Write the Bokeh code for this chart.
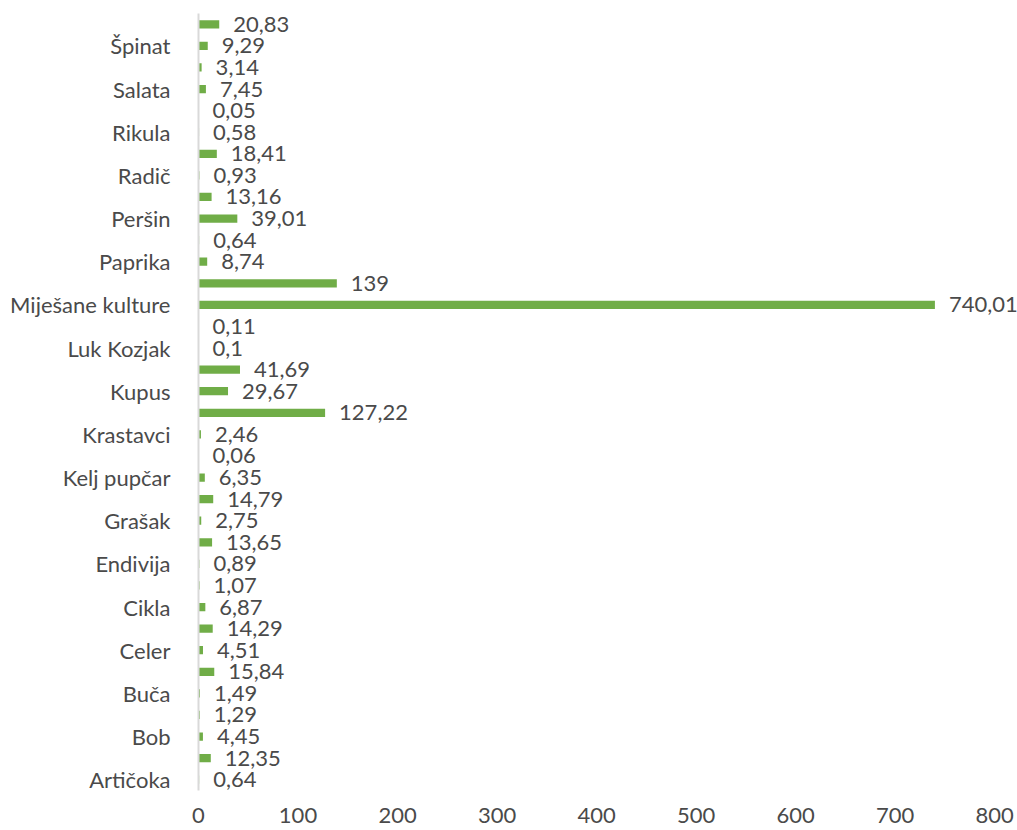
from bokeh.plotting import figure
from bokeh.models import ColumnDataSource, FixedTicker, Range1d
from bokeh.embed import file_html
from bokeh.resources import INLINE
from bokeh.core.properties import value

# 36 bars, bottom to top; only every other category is labelled on the axis
axis_labels = ["Artičoka", "Bob", "Buča", "Celer", "Cikla", "Endivija", "Grašak",
               "Kelj pupčar", "Krastavci", "Kupus", "Luk Kozjak", "Miješane kulture",
               "Paprika", "Peršin", "Radič", "Rikula", "Salata", "Špinat"]
values = [0.64, 12.35, 4.45, 1.29, 1.49, 15.84, 4.51, 14.29, 6.87, 1.07,
          0.89, 13.65, 2.75, 14.79, 6.35, 0.06, 2.46, 127.22, 29.67, 41.69,
          0.1, 0.11, 740.01, 139, 8.74, 0.64, 39.01, 13.16, 0.93, 18.41,
          0.58, 0.05, 7.45, 3.14, 9.29, 20.83]
x_ticks = [0, 100, 200, 300, 400, 500, 600, 700, 800]

FONT = "Lato"
FS = "22px"
TXT = "#4a4a4a"

pos = list(range(len(values)))
src = ColumnDataSource(dict(
    y=pos, v=values,
    lab=[f"{v:g}".replace(".", ",") for v in values],
))

p = figure(width=1017, height=830, output_backend="svg", toolbar_location=None,
           x_range=Range1d(0, 823), y_range=Range1d(-0.5, len(values) - 0.5),
           min_border_left=198, min_border_right=0, min_border_top=13,
           min_border_bottom=40)
p.outline_line_color = None
p.grid.visible = False
p.background_fill_color = "white"

p.hbar(y="y", right="v", left=0, height=0.385, source=src,
       fill_color="#70AD47", line_color=None)
p.text(x="v", y="y", text="lab", source=src, x_offset=14,
       text_align="left", text_baseline="middle",
       text_font=value(FONT), text_font_size=FS, text_color=TXT)

# y axis: labels on every other bar
p.yaxis.ticker = FixedTicker(ticks=list(range(0, len(values), 2)))
p.yaxis.major_label_overrides = {2 * i: n for i, n in enumerate(axis_labels)}
p.yaxis.major_tick_line_color = None
p.yaxis.minor_tick_line_color = None
p.yaxis.axis_line_color = "#D9D9D9"
p.yaxis.axis_line_width = 2
p.yaxis.major_label_standoff = 22
p.yaxis.major_label_text_font = FONT
p.yaxis.major_label_text_font_size = FS
p.yaxis.major_label_text_color = TXT

p.xaxis.ticker = FixedTicker(ticks=x_ticks)
p.xaxis.axis_line_color = None
p.xaxis.major_tick_line_color = None
p.xaxis.minor_tick_line_color = None
p.xaxis.major_label_standoff = 11
p.xaxis.major_label_text_font = FONT
p.xaxis.major_label_text_font_size = FS
p.xaxis.major_label_text_color = TXT

open("out.html", "w").write(file_html(p, INLINE))
